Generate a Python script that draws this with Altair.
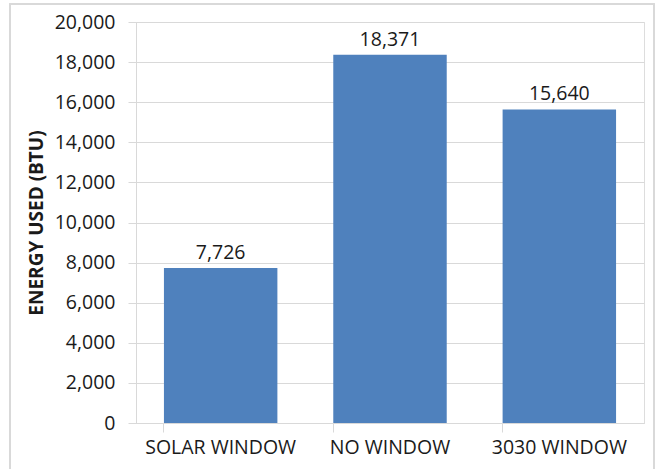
import altair as alt
import pandas as pd

# Energy used per window configuration
categories = ["SOLAR WINDOW", "NO WINDOW", "3030 WINDOW"]
energy_btu = [7726, 18371, 15640]

df = pd.DataFrame({"window": categories, "energy": energy_btu})

FONT = "Open Sans"
BAR_COLOR = "#4F81BD"
GRID = "#D9D9D9"
TEXT = "#1a1a1a"

x_enc = alt.X(
    "window:N",
    sort=categories,
    scale=alt.Scale(paddingInner=0.33, paddingOuter=0.165),
    axis=alt.Axis(
        title=None,
        labelAngle=0,
        labelFont=FONT,
        labelFontSize=19.5,
        labelColor=TEXT,
        labelPadding=6,
        tickSize=9,
        tickColor=GRID,
        domainColor=GRID,
        bandPosition=0,
        ticks=True,
    ),
)

y_enc = alt.Y(
    "energy:Q",
    scale=alt.Scale(domain=[0, 20000], nice=False),
    axis=alt.Axis(
        title="ENERGY USED (BTU)",
        titleFont=FONT,
        titleFontSize=19,
        titleFontWeight="bold",
        titleColor=TEXT,
        titlePadding=8,
        values=list(range(0, 20001, 2000)),
        format=",d",
        labelFont=FONT,
        labelFontSize=19.5,
        labelColor=TEXT,
        labelPadding=13,
        tickSize=8,
        tickColor=GRID,
        gridColor=GRID,
        domainColor=GRID,
    ),
)

bars = alt.Chart(df).mark_bar(color=BAR_COLOR).encode(x=x_enc, y=y_enc)

labels = alt.Chart(df).mark_text(
    font=FONT, fontSize=19.5, color=TEXT, baseline="bottom", dy=-5
).encode(
    x=alt.X("window:N", sort=categories),
    y="energy:Q",
    text=alt.Text("energy:Q", format=",d"),
)

# thin outer frame around the whole chart area
frame = alt.Chart(df).mark_rect(
    fill=None, stroke=GRID, strokeWidth=1.5, clip=False
).encode(
    x=alt.value(-126), x2=alt.value(518), y=alt.value(-18), y2=alt.value(460)
)

chart = (
    alt.layer(frame, bars, labels)
    .properties(
        width=508,
        height=401,
        autosize=alt.AutoSizeParams(type="none"),
        padding={"left": 136, "top": 22, "right": 11, "bottom": 46},
    )
    .configure_view(stroke=None)
    .configure(background="white")
)

chart.save("out.html", embed_options={"renderer": "svg", "actions": False})
